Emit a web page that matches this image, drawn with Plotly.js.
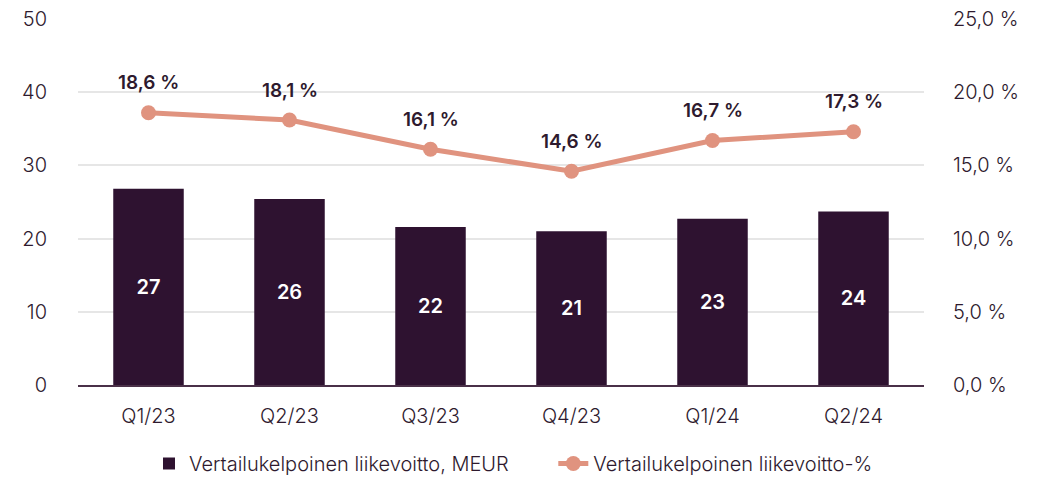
<!DOCTYPE html>
<html>
<head>
<meta charset="utf-8">
<script src="https://cdn.plot.ly/plotly-3.0.1.min.js"></script>
<style>html,body{margin:0;padding:0;background:#fff}#chart{width:1042px;height:483px}</style>
</head>
<body>
<div id="chart"></div>
<script>
const categories = ["Q1/23","Q2/23","Q3/23","Q4/23","Q1/24","Q2/24"];
const profitMeur = [26.8, 25.4, 21.6, 21.0, 22.7, 23.7];
const profitLabels = ["27","26","22","21","23","24"];
const marginPct = [18.6, 18.1, 16.1, 14.6, 16.7, 17.3];
const marginLabels = ["18,6 %","18,1 %","16,1 %","14,6 %","16,7 %","17,3 %"];
const leftTicks = [0,10,20,30,40,50];
const rightTickVals = [0,5,10,15,20,25];
const rightTickText = ["0,0 %","5,0 %","10,0 %","15,0 %","20,0 %","25,0 %"];
const seriesNames = ["Vertailukelpoinen liikevoitto, MEUR","Vertailukelpoinen liikevoitto-%"];

const dark = "#2e1230";
const salmon = "#e0937f";
const txt = "#2e1a2e";
const FONT = "Inter, 'Open Sans', sans-serif";

const traces = [
  {
    type: "bar", x: categories, y: profitMeur, name: seriesNames[0], legend: "legend",
    marker: {color: dark},
    text: profitLabels, textposition: "inside", insidetextanchor: "middle",
    textfont: {color: "#ffffff", size: 20, family: FONT, weight: 600},
    cliponaxis: false, hoverinfo: "skip"
  },
  {
    type: "scatter", mode: "lines+markers", x: categories, y: marginPct, yaxis: "y2",
    name: seriesNames[1], legend: "legend2",
    line: {color: salmon, width: 5}, marker: {color: salmon, size: 15},
    hoverinfo: "skip"
  }
];

const annotations = categories.map((c, i) => ({
  x: c, y: marginPct[i], xref: "x", yref: "y2", text: marginLabels[i],
  showarrow: false, yshift: 30,
  font: {size: 19, color: txt, family: FONT, weight: 600}
}));

const legendBase = {orientation: "h", xref: "container", xanchor: "left", y: -0.015, yref: "container", yanchor: "bottom",
                    font: {size: 20, color: txt, family: FONT, weight: 300}, itemwidth: 30};

const layout = {
  width: 1042, height: 483,
  margin: {l: 78, r: 118, t: 19, b: 98},
  paper_bgcolor: "#fff", plot_bgcolor: "#fff",
  font: {family: FONT, color: txt, size: 19},
  bargap: 0.5,
  showlegend: true,
  legend: Object.assign({}, legendBase, {x: 0.143}),
  legend2: Object.assign({}, legendBase, {x: 0.531}),
  xaxis: {showgrid: false, showline: true, linecolor: "#4a3048", linewidth: 2,
          ticks: "", ticklabelstandoff: 12, tickfont: {size: 20, color: txt, weight: 300}, fixedrange: true},
  yaxis: {range: [0, 50], tickvals: leftTicks, showgrid: true, gridcolor: "#e6e6e6", gridwidth: 2,
          zeroline: false, showline: false, ticks: "", ticklabelstandoff: 30,
          tickfont: {size: 20, color: txt, weight: 300}, fixedrange: true},
  yaxis2: {range: [0, 25], overlaying: "y", side: "right", tickvals: rightTickVals, ticktext: rightTickText,
           showgrid: false, zeroline: false, showline: false, ticks: "", ticklabelstandoff: 28,
           tickfont: {size: 20, color: txt, weight: 300}, fixedrange: true},
  annotations: annotations
};

Plotly.newPlot("chart", traces, layout, {displayModeBar: false, staticPlot: true});
</script>
</body>
</html>
